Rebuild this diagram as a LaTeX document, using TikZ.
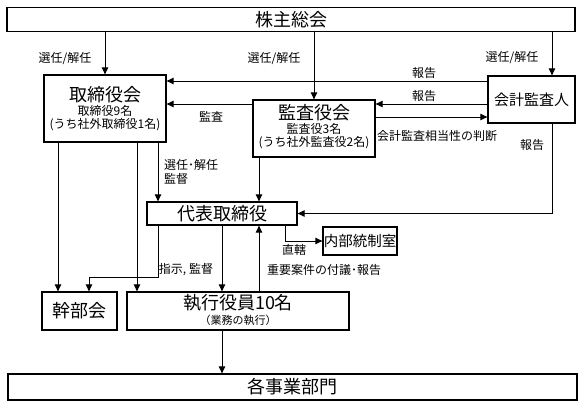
\documentclass[tikz,border=0pt]{standalone}
\usepackage{fontspec}
\setmainfont{Noto Sans CJK JP}
\usetikzlibrary{arrows.meta}
\tikzset{
  box/.style={draw, line width=1.3pt, inner sep=0pt, fill=white},
  arr/.style={line width=0.9pt, -{Triangle[length=7pt,width=6.5pt]}},
  big/.style={font=\fontsize{18}{20}\selectfont, inner sep=0pt},
  mid/.style={font=\fontsize{15}{17}\selectfont, inner sep=0pt},
  sm/.style={font=\fontsize{12}{13}\selectfont, inner sep=0pt},
  lab/.style={font=\fontsize{12}{13}\selectfont, inner sep=0pt},
}
\begin{document}
\begin{tikzpicture}[x=1pt,y=-1pt]
\path[use as bounding box, fill=white] (0,0) rectangle (581,407);

% boxes
\node[box, big, minimum width=568pt, minimum height=24pt] (shu) at (291,19.5) {株主総会};
\node[box, minimum width=122pt, minimum height=67pt] (tori) at (105,108.5) {};
\node[box, minimum width=122pt, minimum height=57pt] (kansa) at (314,128.5) {};
\node[box, mid, minimum width=87pt, minimum height=47pt] (kaikei) at (531.5,99.5) {会計監査人};
\node[box, big, minimum width=150pt, minimum height=23pt] (daihyo) at (222,213.5) {代表取締役};
\node[box, font=\fontsize{14.5}{16}\selectfont, minimum width=74pt, minimum height=28pt] (naibu) at (360,241) {内部統制室};
\node[box, big, minimum width=75pt, minimum height=38pt] (kanbu) at (79.5,311) {幹部会};
\node[box, minimum width=222pt, minimum height=38pt] (shikko) at (238,311) {};
\node[box, big, minimum width=569pt, minimum height=26pt] (kaku) at (292.5,387) {各事業部門};

% texts inside boxes
\node[big] (toriT) at (105,95) {取締役会};
\node[sm] (toriA) at (105,110.5) {取締役9名};
\node[sm] (toriB) at (105,125) {(うち社外取締役1名)};
\node[big] (kansaT) at (314,113) {監査役会};
\node[sm] (kansaA) at (314,129) {監査役3名};
\node[sm] (kansaB) at (314,143) {(うち社外監査役2名)};
\node[big] (shikkoT) at (238,303) {執行役員10名};
\node[font=\fontsize{11}{12}\selectfont, inner sep=0pt] (shikkoA) at (238,320) {（業務の執行）};

% helper coordinates
\coordinate (xK) at (552,0);
\coordinate (y81) at (0,81);
\coordinate (y104) at (0,104);
\coordinate (y117) at (0,117);
\coordinate (x58) at (58,0);
\coordinate (x137) at (137,0);
\coordinate (x158) at (158,0);
\coordinate (x259) at (259,0);
\coordinate (k1) at (158,277);
\coordinate (k2) at (89,277);
\coordinate (n1) at (285,0);

% connectors
\draw[arr] (shu.south -| tori.north) -- (tori.north);
\draw[arr] (shu.south -| kansa.north) -- (kansa.north);
\draw[arr] (shu.south -| xK) -- (kaikei.north -| xK);
\draw[arr] (kaikei.west |- y81) -- (tori.east |- y81);
\draw[arr] (kaikei.west |- y104) -- (kansa.east |- y104);
\draw[arr] (kansa.west |- y104) -- (tori.east |- y104);
\draw[arr] (kansa.east |- y117) -- (kaikei.west |- y117);
\draw[arr] (kaikei.south -| xK) -- (xK |- daihyo.east) -- (daihyo.east);
\draw[arr] (tori.south -| x158) -- (daihyo.north -| x158);
\draw[arr] (kansa.south -| x259) -- (daihyo.north -| x259);
\draw[arr] (tori.south -| x58) -- (kanbu.north -| x58);
\draw[arr] (tori.south -| x137) -- (shikko.north -| x137);
\draw[arr] (daihyo.south -| k1) -- (k1) -- (k2) -- (kanbu.north -| k2);
\draw[arr] (daihyo.south) -- (shikko.north -| daihyo.south);
\draw[arr] (shikko.north -| x259) -- (daihyo.south -| x259);
\draw[arr] (daihyo.south -| n1) -- (n1 |- naibu.west) -- (naibu.west);
\draw[arr] (shikko.south -| daihyo.south) -- (kaku.north -| daihyo.south);

% connector labels
\node[lab] (l1) at (65,59) {選任/解任};
\node[lab] (l2) at (274,59) {選任/解任};
\node[lab] (l3) at (512,58) {選任/解任};
\node[lab] (l4) at (424,73) {報告};
\node[lab] (l5) at (424,96) {報告};
\node[lab] (l6) at (211,117) {監査};
\node[lab] (l7) at (437,136) {会計監査相当性の判断};
\node[lab] (l8) at (532,145) {報告};
\node[lab, anchor=west] (l9) at (164,165) {選任･解任};
\node[lab, anchor=west] (l10) at (164,178.5) {監督};
\node[lab] (l11) at (294,250) {直轄};
\node[lab] (l12) at (186,270) {指示, 監督};
\node[lab, anchor=west] (l13) at (267,270) {重要案件の付議･報告};
\end{tikzpicture}
\end{document}
